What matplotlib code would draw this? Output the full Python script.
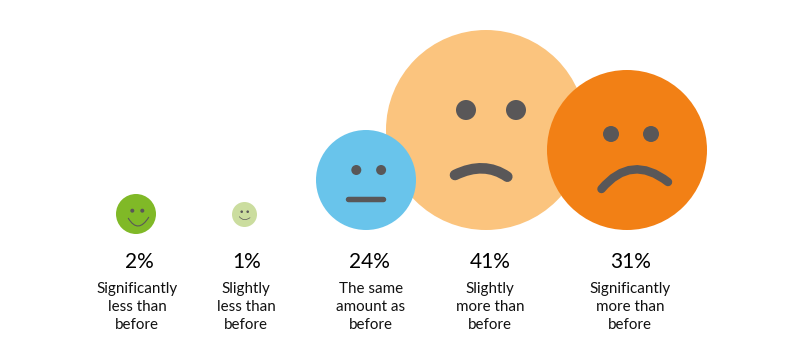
import matplotlib
matplotlib.use("Agg")
import matplotlib.pyplot as plt
from matplotlib.patches import Circle, PathPatch
from matplotlib.path import Path

plt.rcParams['font.family'] = ['Lato', 'DejaVu Sans']

# Data
percents = [2, 1, 24, 41, 31]
labels = ["Significantly\nless than\nbefore", "Slightly\nless than\nbefore",
          "The same\namount as\nbefore", "Slightly\nmore than\nbefore",
          "Significantly\nmore than\nbefore"]

# Style and layout (pixels of the 810x358 canvas)
radii = [20, 12.5, 50, 100, 80]
centers_x = [136, 244.5, 366, 486, 627]
centers_y = [214, 214.5, 180, 130, 150]
colors = ["#80B927", "#CBDD9F", "#69C4EB", "#FBC47E", "#F28015"]
zorders = [2, 2, 4, 3, 5]
eye_shift = [1.3, 0.2, 2.7, 5, 4]
eye_dx = [5, 3, 12.4, 25, 20]
eye_dy = [-3.3, -2.8, -10, -20, -16]
eye_r = [2, 1.3, 5, 10, 8]
mouth_left = [(-7.7, 4.3), (-5.2, 2.2), (-17.5, 19.5), (-31, 45), (-25.5, 39)]
mouth_mid = [(2.3, 12), (-0.2, 5.2), (0, 19.5), (-3.3, 38.3), (6, 19.5)]
mouth_right = [(12.7, 3.3), (5.5, 3.2), (17.5, 19.5), (21.3, 46.7), (41, 32)]
mouth_w = [1.1, 0.7, 5.5, 10.6, 8.5]
pct_x = [139, 247, 369, 490, 631]
label_x = [137, 246, 371, 490, 630]
INK = "#595758"

DPI = 100
fig = plt.figure(figsize=(8.1, 3.58), dpi=DPI)
ax = fig.add_axes([0, 0, 1, 1])
ax.set_xlim(0, 810)
ax.set_ylim(358, 0)
ax.set_aspect("equal")
ax.axis("off")

px = 72 / DPI
for i, pct in enumerate(percents):
    cx, cy, z = centers_x[i], centers_y[i], zorders[i]
    ax.add_patch(Circle((cx, cy), radii[i], fc=colors[i], ec="none", zorder=z))
    for s in (-1, 1):
        ax.add_patch(Circle((cx + eye_shift[i] + s * eye_dx[i], cy + eye_dy[i]), eye_r[i],
                            fc=INK, ec="none", zorder=z + 0.1))
    p0, m, p2 = mouth_left[i], mouth_mid[i], mouth_right[i]
    ctrl = (2 * m[0] - (p0[0] + p2[0]) / 2, 2 * m[1] - (p0[1] + p2[1]) / 2)
    path = Path([(cx + p0[0], cy + p0[1]), (cx + ctrl[0], cy + ctrl[1]),
                 (cx + p2[0], cy + p2[1])],
                [Path.MOVETO, Path.CURVE3, Path.CURVE3])
    ax.add_patch(PathPatch(path, fc="none", ec=INK, lw=mouth_w[i] * px,
                           capstyle="round", zorder=z + 0.1))
    ax.text(pct_x[i], 262, f"{pct}%", ha="center", va="center",
            fontsize=15, color="#000000")
    for j, line in enumerate(labels[i].split("\n")):
        ax.text(label_x[i], 289 + 18 * j, line, ha="center", va="center",
                fontsize=10.9, color="#111111")

fig.savefig("out.png", dpi=DPI, facecolor="white")
